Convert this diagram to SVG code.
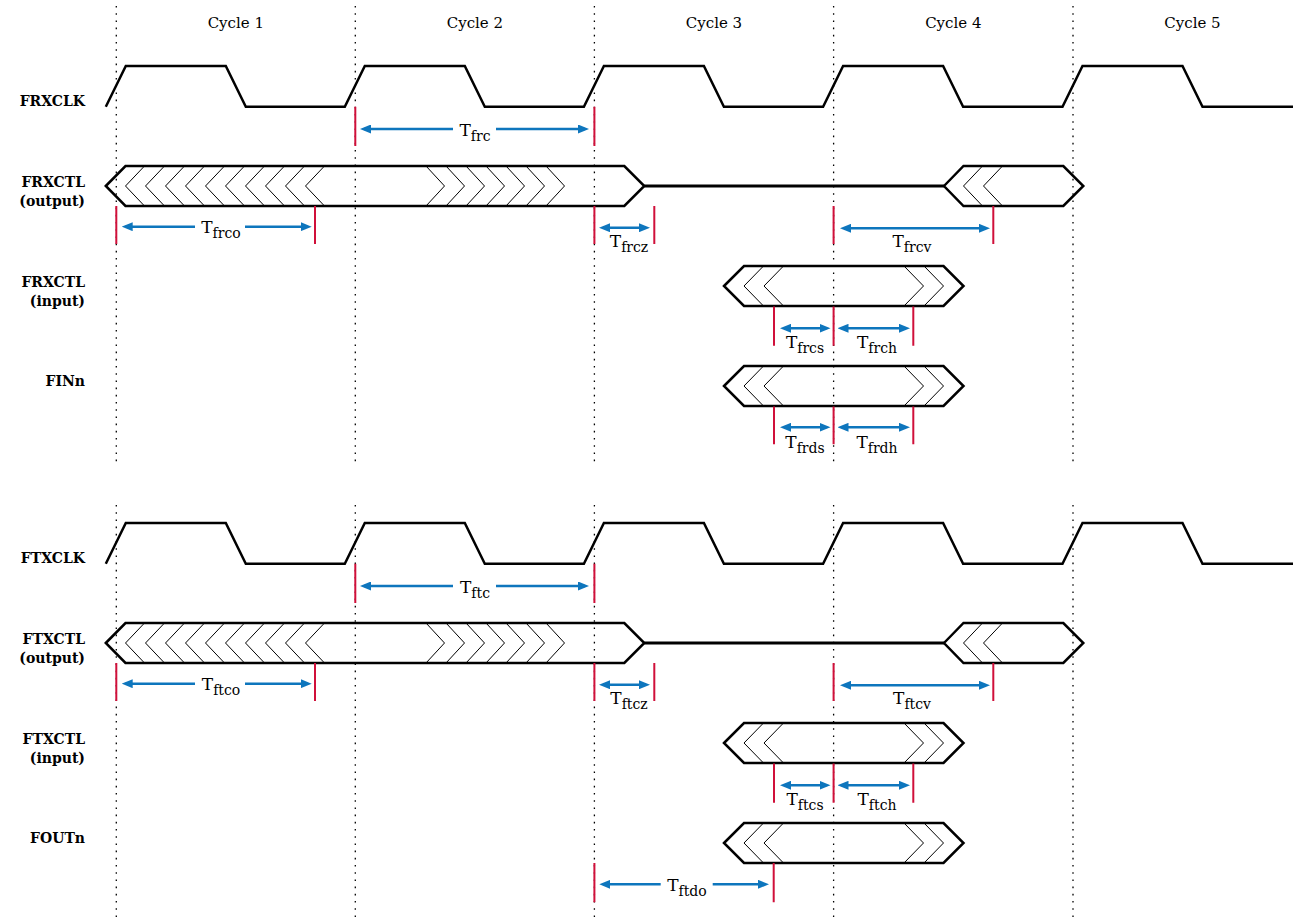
<svg xmlns="http://www.w3.org/2000/svg" width="1293" height="921" viewBox="0 0 1293 921">
<style>
.lbl{font-family:'DejaVu Serif',serif;font-size:14px;font-weight:bold;fill:#000;text-anchor:end}
.cyc{font-family:'DejaVu Serif',serif;font-size:15px;fill:#000;text-anchor:middle}
.tm{font-family:'DejaVu Serif',serif;font-size:17px;fill:#000;text-anchor:middle}
.sub{font-size:14px}
.grid{stroke:#000;stroke-width:1.3;stroke-dasharray:1.6 5.6;fill:none}
.clk{stroke:#000;stroke-width:2.5;fill:none;stroke-linejoin:miter}
.bus{stroke:#000;stroke-width:2.5;fill:none;stroke-linejoin:miter}
.hatch{stroke:#000;stroke-width:1;fill:none}
.hold{stroke:#000;stroke-width:3;fill:none}
.mk{stroke:#D0103A;stroke-width:2}
.arr{stroke:#0E76BD;stroke-width:2.6;fill:none}
</style>
<defs>
<marker id="ah" markerUnits="userSpaceOnUse" markerWidth="11" markerHeight="9" refX="7" refY="4.5" orient="auto-start-reverse" viewBox="0 0 11 9">
<path d="M0,0 L11,4.5 L0,9 Z" fill="#0E76BD"/>
</marker>
</defs>
<rect width="1293" height="921" fill="#fff"/>

<g id="grid">
<path class="grid" d="M116.3,6V462M355.3,6V462M594.4,6V462M833.6,6V462M1073,6V462M116.3,505V921M355.3,505V921M594.4,505V921M833.6,505V921M1073,505V921"/>
<text class="cyc" x="235.8" y="28">Cycle 1</text>
<text class="cyc" x="474.9" y="28">Cycle 2</text>
<text class="cyc" x="714" y="28">Cycle 3</text>
<text class="cyc" x="953.3" y="28">Cycle 4</text>
<text class="cyc" x="1192.5" y="28">Cycle 5</text>
</g>

<g id="frxclk">
<text class="lbl" x="85" y="106">FRXCLK</text>
<path class="clk" d="M105.8,106.7 L125.8,66 L225.8,66 L245.8,106.7 L344.8,106.7 L364.8,66 L464.8,66 L484.8,106.7 L583.9,106.7 L603.9,66 L703.9,66 L723.9,106.7 L823.1,106.7 L843.1,66 L943.1,66 L963.1,106.7 L1062.5,106.7 L1082.5,66 L1182.5,66 L1202.5,106.7 L1293,106.7"/>
</g>

<g id="frxctl-out">
<text class="lbl" x="85" y="187">FRXCTL</text>
<text class="lbl" x="85" y="206">(output)</text>
<path class="bus" d="M105.8,186 L125.5,166 L624.3,166 L644.3,186 L624.3,206 L125.5,206 Z"/>
<path class="hatch" d="M144.5,166L125.5,186L144.5,206M164.5,166L145.5,186L164.5,206M184.5,166L165.5,186L184.5,206M204.5,166L185.5,186L204.5,206M224.5,166L205.5,186L224.5,206M244.5,166L225.5,186L244.5,206M264.5,166L245.5,186L264.5,206M284.5,166L265.5,186L284.5,206M304.5,166L285.5,186L304.5,206M324.5,166L305.5,186L324.5,206"/>
<path class="hatch" d="M426,166L444.5,186L426,206M446,166L464.5,186L446,206M466,166L484.5,186L466,206M486,166L504.5,186L486,206M506,166L524.5,186L506,206M526,166L544.5,186L526,206M546,166L564.5,186L546,206"/>
<path class="hold" d="M644.3,186 L944,186"/>
<path class="bus" d="M944,186 L963.5,166 L1063.3,166 L1083.3,186 L1063.3,206 L963.5,206 Z"/>
<path class="hatch" d="M982.5,166L963.5,186L982.5,206M1002.5,166L983.5,186L1002.5,206"/>
</g>

<g id="frxctl-in">
<text class="lbl" x="85" y="286.5">FRXCTL</text>
<text class="lbl" x="85" y="306">(input)</text>
<path class="bus" d="M724,286 L744,266 L943.5,266 L963.5,286 L943.5,306 L744,306 Z"/>
<path class="hatch" d="M763.5,266L744,286L763.5,306M783.5,266L764,286L783.5,306M904,266L923.5,286L904,306M924,266L943.5,286L924,306"/>
</g>

<g id="finn">
<text class="lbl" x="85" y="386">FINn</text>
<path class="bus" d="M724,386 L744,366 L943.5,366 L963.5,386 L943.5,406 L744,406 Z"/>
<path class="hatch" d="M763.5,366L744,386L763.5,406M783.5,366L764,386L783.5,406M904,366L923.5,386L904,406M924,366L943.5,386L924,406"/>
</g>

<g id="ftxclk">
<text class="lbl" x="85" y="563">FTXCLK</text>
<path class="clk" d="M105.8,563.7 L125.8,523 L225.8,523 L245.8,563.7 L344.8,563.7 L364.8,523 L464.8,523 L484.8,563.7 L583.9,563.7 L603.9,523 L703.9,523 L723.9,563.7 L823.1,563.7 L843.1,523 L943.1,523 L963.1,563.7 L1062.5,563.7 L1082.5,523 L1182.5,523 L1202.5,563.7 L1293,563.7"/>
</g>

<g id="ftxctl-out">
<text class="lbl" x="85" y="644">FTXCTL</text>
<text class="lbl" x="85" y="663">(output)</text>
<path class="bus" d="M105.8,643 L125.5,623 L624.3,623 L644.3,643 L624.3,663 L125.5,663 Z"/>
<path class="hatch" d="M144.5,623L125.5,643L144.5,663M164.5,623L145.5,643L164.5,663M184.5,623L165.5,643L184.5,663M204.5,623L185.5,643L204.5,663M224.5,623L205.5,643L224.5,663M244.5,623L225.5,643L244.5,663M264.5,623L245.5,643L264.5,663M284.5,623L265.5,643L284.5,663M304.5,623L285.5,643L304.5,663M324.5,623L305.5,643L324.5,663"/>
<path class="hatch" d="M426,623L444.5,643L426,663M446,623L464.5,643L446,663M466,623L484.5,643L466,663M486,623L504.5,643L486,663M506,623L524.5,643L506,663M526,623L544.5,643L526,663M546,623L564.5,643L546,663"/>
<path class="hold" d="M644.3,643 L944,643"/>
<path class="bus" d="M944,643 L963.5,623 L1063.3,623 L1083.3,643 L1063.3,663 L963.5,663 Z"/>
<path class="hatch" d="M982.5,623L963.5,643L982.5,663M1002.5,623L983.5,643L1002.5,663"/>
</g>

<g id="ftxctl-in">
<text class="lbl" x="85" y="743.5">FTXCTL</text>
<text class="lbl" x="85" y="763">(input)</text>
<path class="bus" d="M724,743 L744,723 L943.5,723 L963.5,743 L943.5,763 L744,763 Z"/>
<path class="hatch" d="M763.5,723L744,743L763.5,763M783.5,723L764,743L783.5,763M904,723L923.5,743L904,763M924,723L943.5,743L924,763"/>
</g>

<g id="foutn">
<text class="lbl" x="85" y="843">FOUTn</text>
<path class="bus" d="M724,843 L744,823 L943.5,823 L963.5,843 L943.5,863 L744,863 Z"/>
<path class="hatch" d="M763.5,823L744,843L763.5,863M783.5,823L764,843L783.5,863M904,823L923.5,843L904,863M924,823L943.5,843L924,863"/>
</g>

<g id="connectors">
<g id="edge-markers">
<path class="mk" d="M355.3,106.7V146M594.4,106.7V146M116.3,206V244M315,206V244M594.4,206V244M654.3,206V244M833.6,206V244M993.3,206V244M774,306.5V345.7M833.6,306.5V345.7M913.3,306.5V345.7M774,406.5V444.3M833.6,406.5V444.3M913.3,406.5V444.3"/>
<path class="mk" d="M355.3,563.7V603M594.4,563.7V603M116.3,663V701M315,663V701M594.4,663V701M654.3,663V701M833.6,663V701M993.3,663V701M774,763.5V802.7M833.6,763.5V802.7M913.3,763.5V802.7M594.4,863V902.3M773.7,863V902.3"/>
</g>
<g id="t-frc"><line class="arr" x1="364" y1="129" x2="453" y2="129" marker-start="url(#ah)"/><line class="arr" x1="496" y1="129" x2="585" y2="129" marker-end="url(#ah)"/><text class="tm" x="475" y="136">T<tspan class="sub" dy="5">frc</tspan></text></g>
<g id="t-frco"><line class="arr" x1="125.7" y1="226.7" x2="195" y2="226.7" marker-start="url(#ah)"/><line class="arr" x1="245" y1="226.7" x2="307.7" y2="226.7" marker-end="url(#ah)"/><text class="tm" x="221" y="233">T<tspan class="sub" dy="5">frco</tspan></text></g>
<g id="t-frcz"><line class="arr" x1="603" y1="227.7" x2="646" y2="227.7" marker-start="url(#ah)" marker-end="url(#ah)"/><text class="tm" x="629" y="246.5">T<tspan class="sub" dy="5">frcz</tspan></text></g>
<g id="t-frcv"><line class="arr" x1="844" y1="228.3" x2="986" y2="228.3" marker-start="url(#ah)" marker-end="url(#ah)"/><text class="tm" x="912" y="247">T<tspan class="sub" dy="5">frcv</tspan></text></g>
<g id="t-frcs"><line class="arr" x1="784" y1="328.3" x2="826.5" y2="328.3" marker-start="url(#ah)" marker-end="url(#ah)"/><text class="tm" x="805" y="348">T<tspan class="sub" dy="5">frcs</tspan></text></g>
<g id="t-frch"><line class="arr" x1="841.5" y1="328.3" x2="906" y2="328.3" marker-start="url(#ah)" marker-end="url(#ah)"/><text class="tm" x="877" y="348">T<tspan class="sub" dy="5">frch</tspan></text></g>
<g id="t-frds"><line class="arr" x1="784" y1="427.3" x2="826.5" y2="427.3" marker-start="url(#ah)" marker-end="url(#ah)"/><text class="tm" x="805" y="448">T<tspan class="sub" dy="5">frds</tspan></text></g>
<g id="t-frdh"><line class="arr" x1="841.5" y1="427.3" x2="906" y2="427.3" marker-start="url(#ah)" marker-end="url(#ah)"/><text class="tm" x="877" y="448">T<tspan class="sub" dy="5">frdh</tspan></text></g>

<g id="t-ftc"><line class="arr" x1="364" y1="586" x2="453" y2="586" marker-start="url(#ah)"/><line class="arr" x1="496" y1="586" x2="585" y2="586" marker-end="url(#ah)"/><text class="tm" x="475" y="593">T<tspan class="sub" dy="5">ftc</tspan></text></g>
<g id="t-ftco"><line class="arr" x1="125.7" y1="683.7" x2="195" y2="683.7" marker-start="url(#ah)"/><line class="arr" x1="245" y1="683.7" x2="307.7" y2="683.7" marker-end="url(#ah)"/><text class="tm" x="221" y="690">T<tspan class="sub" dy="5">ftco</tspan></text></g>
<g id="t-ftcz"><line class="arr" x1="603" y1="684.7" x2="646" y2="684.7" marker-start="url(#ah)" marker-end="url(#ah)"/><text class="tm" x="629" y="703.5">T<tspan class="sub" dy="5">ftcz</tspan></text></g>
<g id="t-ftcv"><line class="arr" x1="844" y1="685.3" x2="986" y2="685.3" marker-start="url(#ah)" marker-end="url(#ah)"/><text class="tm" x="912" y="704">T<tspan class="sub" dy="5">ftcv</tspan></text></g>
<g id="t-ftcs"><line class="arr" x1="784" y1="785.3" x2="826.5" y2="785.3" marker-start="url(#ah)" marker-end="url(#ah)"/><text class="tm" x="805" y="805">T<tspan class="sub" dy="5">ftcs</tspan></text></g>
<g id="t-ftch"><line class="arr" x1="841.5" y1="785.3" x2="906" y2="785.3" marker-start="url(#ah)" marker-end="url(#ah)"/><text class="tm" x="877" y="805">T<tspan class="sub" dy="5">ftch</tspan></text></g>
<g id="t-ftdo"><line class="arr" x1="603.3" y1="884.3" x2="660.7" y2="884.3" marker-start="url(#ah)"/><line class="arr" x1="712.7" y1="884.3" x2="765" y2="884.3" marker-end="url(#ah)"/><text class="tm" x="687" y="891">T<tspan class="sub" dy="5">ftdo</tspan></text></g>
</g>
</svg>
